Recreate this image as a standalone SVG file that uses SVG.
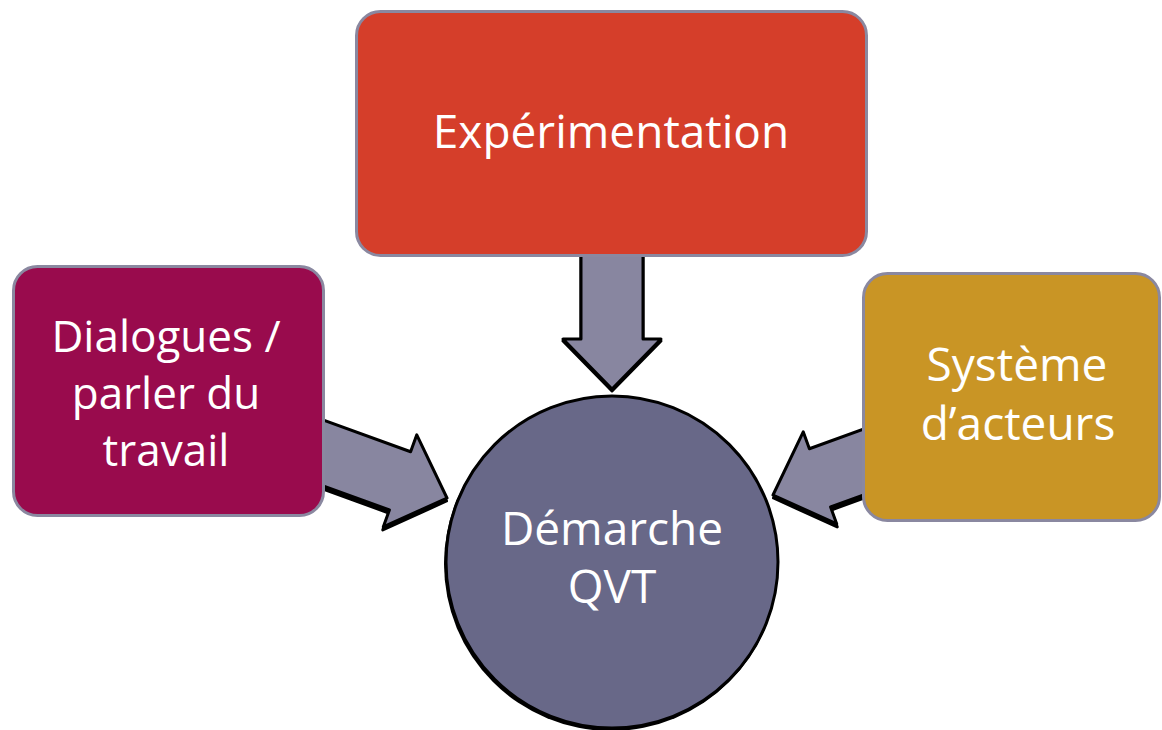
<svg xmlns="http://www.w3.org/2000/svg" width="1162" height="730" viewBox="0 0 1162 730">
  <style>
    .box { stroke: #8a88a0; stroke-width: 3; }
    .lbl { font-family: "Open Sans", "Noto Sans", "DejaVu Sans", sans-serif; font-size: 46px; fill: #ffffff; text-anchor: middle; }
    .lbl-sm { font-size: 44px; }
    .arrow { fill: #8886a0; stroke: #000000; stroke-width: 3; stroke-linejoin: round; }
    .arrow-shadow { fill: #000000; stroke: #000000; stroke-width: 3; stroke-linejoin: round; }
  </style>
  <defs>
    <!-- block arrow pointing along +x with its tip at the origin -->
    <path id="blockArrow" d="M-150,-31 L-50,-31 L-50,-49 L0,0 L-50,49 L-50,31 L-150,31 Z"/>
  </defs>

  <rect width="1162" height="730" fill="#ffffff"/>

  <!-- connectors -->
  <g id="connectors">
    <g transform="translate(612,389) rotate(90)">
      <use href="#blockArrow" class="arrow-shadow" transform="translate(2,0)"/>
      <use href="#blockArrow" class="arrow"/>
    </g>
    <g transform="translate(447,498) rotate(20)">
      <use href="#blockArrow" class="arrow-shadow" transform="rotate(-20) translate(-0.5,3) rotate(20)"/>
      <use href="#blockArrow" class="arrow"/>
    </g>
    <g transform="translate(773,495) rotate(160)">
      <use href="#blockArrow" class="arrow-shadow" transform="rotate(-160) translate(0.5,3) rotate(160)"/>
      <use href="#blockArrow" class="arrow"/>
    </g>
  </g>

  <g id="node-experimentation">
    <rect class="box" x="356.5" y="11.5" width="510" height="244" rx="24" fill="#d53e2a"/>
    <text class="lbl" x="611" y="148">Expérimentation</text>
  </g>

  <g id="node-dialogues">
    <rect class="box" x="13.5" y="266.5" width="310" height="249" rx="24" fill="#990b4d"/>
    <text class="lbl lbl-sm" x="166" y="352">Dialogues /</text>
    <text class="lbl lbl-sm" x="166" y="409">parler du</text>
    <text class="lbl lbl-sm" x="166" y="466">travail</text>
  </g>

  <g id="node-systeme">
    <rect class="box" x="863.5" y="273.5" width="296" height="247" rx="24" fill="#c99525"/>
    <text class="lbl" x="1017" y="381">Système</text>
    <text class="lbl" x="1018" y="440">d’acteurs</text>
  </g>

  <g id="node-demarche">
    <circle cx="611" cy="564" r="167" fill="#000000"/>
    <circle cx="612" cy="562" r="166" fill="#686888" stroke="#000000" stroke-width="3"/>
    <text class="lbl" x="612" y="545">Démarche</text>
    <text class="lbl" x="612" y="603">QVT</text>
  </g>
</svg>
